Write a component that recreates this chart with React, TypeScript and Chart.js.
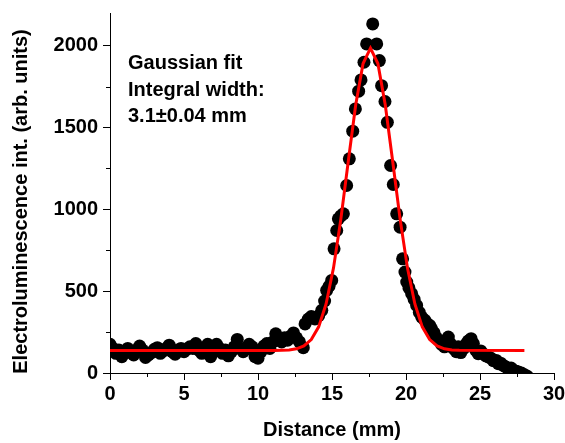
import React, { useEffect, useRef } from 'react';
import { Chart, registerables } from 'chart.js';

Chart.register(...registerables);

// Measured electroluminescence profile (distance in mm, intensity in arb. units)
const distance = [
  0, 0.2, 0.4, 0.6, 0.8, 1.0, 1.2, 1.4, 1.6, 1.8, 2.0, 2.2, 2.4, 2.6, 2.8, 3.0, 3.2, 3.4, 3.6, 3.8,
  4.0, 4.2, 4.4, 4.6, 4.8, 5.0, 5.2, 5.4, 5.6, 5.8, 6.0, 6.2, 6.4, 6.6, 6.8, 7.0, 7.2, 7.4, 7.6, 7.8,
  8.0, 8.2, 8.4, 8.6, 8.8, 9.0, 9.2, 9.4, 9.6, 9.8, 10.0, 10.2, 10.4, 10.6, 10.8, 11.0,
  11.2, 11.4, 11.6, 11.8, 12.0, 12.2, 12.4, 12.6, 12.8, 13.06, 13.18, 13.4, 13.6, 13.85, 14.1, 14.31,
  14.5, 14.64, 14.8, 14.98, 15.14, 15.32, 15.43, 15.6, 15.77, 15.99, 16.17, 16.4, 16.58, 16.8, 16.96,
  17.16, 17.34, 17.75, 18.02, 18.2, 18.35, 18.58, 18.74, 18.96, 19.14, 19.37, 19.6, 19.77, 19.93,
  20.05, 20.2, 20.38, 20.55, 20.72, 20.9, 21.06, 21.28, 21.45, 21.6, 21.73, 21.9, 22.05, 22.2, 22.4,
  22.6, 22.86, 23.0, 23.2, 23.4, 23.53, 23.7, 23.9, 24.05, 24.2, 24.4, 24.55, 24.7, 24.88, 25.05,
  25.2, 25.4, 25.56, 25.75, 25.9, 26.1, 26.24, 26.4, 26.6, 26.75, 26.9, 27.1, 27.3, 27.45, 27.6,
  27.8, 28.0, 28.2,
];
const intensity = [
  175, 150, 120, 140, 100, 130, 150, 125, 110, 140, 165, 140, 95, 110, 125, 145, 155, 120, 135, 150,
  170, 130, 115, 140, 150, 130, 145, 160, 150, 180, 140, 120, 150, 175, 100, 130, 175, 150, 120, 140,
  105, 130, 160, 205, 150, 130, 145, 175, 160, 100, 90, 130, 165, 180, 150, 190,
  240, 205, 190, 215, 200, 225, 245, 215, 190, 155, 300, 330, 345, 330, 350, 383,
  440, 505, 530, 566, 759, 871, 942, 960, 973, 1146, 1309, 1478, 1614, 1722, 1791,
  1899, 2011, 2133, 2011, 1909, 1756, 1659, 1532, 1268, 1152, 973, 891, 698, 617,
  556, 520, 485, 450, 413, 370, 342, 322, 300, 291, 270, 245, 215, 200, 175,
  160, 220, 180, 150, 130, 160, 125, 150, 175, 195, 210, 180, 140, 118, 135,
  118, 105, 98, 90, 75, 77, 57, 60, 45, 37, 27, 30, 15, 10, 6,
  0, -10, -20,
];

// Gaussian fit curve
const fitDistance = [
  0, 11.1, 11.6, 12.1, 12.6, 13.1, 13.6, 14.1, 14.6, 15.1, 15.6, 16.1, 16.6, 17.1, 17.6,
  18.1, 18.6, 19.1, 19.6, 20.1, 20.6, 21.1, 21.6, 22.1, 22.6, 23.1, 23.6, 28,
];
const fitIntensity = [
  138, 138, 139, 141, 148, 165, 204, 282, 422, 641, 942, 1294, 1638, 1891, 1985,
  1891, 1638, 1294, 942, 641, 422, 282, 204, 165, 148, 141, 139, 138,
];

const xMajorTicks = [0, 5, 10, 15, 20, 25, 30];
const xMinorTicks = [2.5, 7.5, 12.5, 17.5, 22.5, 27.5];
const yMajorTicks = [0, 500, 1000, 1500, 2000];
const yMinorTicks = [250, 750, 1250, 1750];

const xTitle = 'Distance (mm)';
const yTitle = 'Electroluminescence int. (arb. units)';
const annotationLines = ['Gaussian fit', 'Integral width:', '3.1±0.04 mm'];

const FONT = "'Liberation Sans', Arial, Helvetica, sans-serif";

export default function App() {
  const canvasRef = useRef<HTMLCanvasElement | null>(null);

  useEffect(() => {
    const canvas = canvasRef.current;
    if (!canvas) return;

    const extras = {
      id: 'extras',
      afterDraw(chart: any) {
        const ctx = chart.ctx as CanvasRenderingContext2D;
        const xs = chart.scales.x;
        const ys = chart.scales.y;
        const area = chart.chartArea;
        ctx.save();
        ctx.strokeStyle = '#000';
        ctx.lineWidth = 1;
        ctx.beginPath();
        for (const v of xMinorTicks) {
          const px = Math.round(xs.getPixelForValue(v)) + 0.5;
          ctx.moveTo(px, area.bottom);
          ctx.lineTo(px, area.bottom + 4);
        }
        for (const v of yMinorTicks) {
          const py = Math.round(ys.getPixelForValue(v)) + 0.5;
          ctx.moveTo(area.left, py);
          ctx.lineTo(area.left - 4, py);
        }
        ctx.stroke();

        // y axis title
        ctx.fillStyle = '#000';
        ctx.font = `bold 20px ${FONT}`;
        ctx.save();
        ctx.translate(26.5, 201.5);
        ctx.rotate(-Math.PI / 2);
        ctx.textAlign = 'center';
        ctx.textBaseline = 'alphabetic';
        ctx.fillText(yTitle, 0, 0);
        ctx.restore();

        // annotation
        ctx.textAlign = 'left';
        ctx.textBaseline = 'alphabetic';
        ctx.font = `bold 20px ${FONT}`;
        annotationLines.forEach((line, i) => {
          ctx.fillText(line, 128, 69 + i * 26.5);
        });
        ctx.restore();
      },
    };

    const chart = new Chart(canvas, {
      type: 'scatter',
      data: {
        datasets: [
          {
            type: 'line',
            label: 'Gaussian fit',
            data: fitDistance.map((x, i) => ({ x, y: fitIntensity[i] })),
            borderColor: '#ff0000',
            borderWidth: 3,
            pointRadius: 0,
            fill: false,
            tension: 0,
            order: 0,
          } as any,
          {
            label: 'Data',
            data: distance.map((x, i) => ({ x, y: intensity[i] })),
            backgroundColor: '#000',
            borderColor: '#000',
            borderWidth: 0,
            pointRadius: 6.5,
            clip: 0,
            order: 1,
          } as any,
        ],
      },
      options: {
        responsive: false,
        animation: false,
        devicePixelRatio: 1,
        layout: { padding: { top: 13, right: 11, bottom: 0, left: 0 } },
        plugins: {
          legend: { display: false },
          tooltip: { enabled: false },
          title: { display: false },
        },
        scales: {
          x: {
            type: 'linear',
            min: 0,
            max: 30,
            afterBuildTicks: (scale: any) => {
              scale.ticks = xMajorTicks.map((v) => ({ value: v }));
            },
            afterFit: (scale: any) => {
              scale.height = 70;
              scale.paddingLeft = 0;
              scale.paddingRight = 0;
            },
            ticks: {
              color: '#000',
              padding: 2,
              maxRotation: 0,
              autoSkip: false,
              callback: (v: any) => String(v),
              font: { family: FONT, size: 20, weight: 'bold' },
            },
            grid: {
              display: true,
              drawOnChartArea: false,
              drawTicks: true,
              tickLength: 7,
              color: '#000',
              tickColor: '#000',
              lineWidth: 1,
            },
            border: { display: true, color: '#000', width: 1 },
            title: {
              display: true,
              text: xTitle,
              color: '#000',
              padding: { top: 0, bottom: 1 },
              font: { family: FONT, size: 20, weight: 'bold' },
            },
          },
          y: {
            type: 'linear',
            min: 0,
            max: 2200,
            afterBuildTicks: (scale: any) => {
              scale.ticks = yMajorTicks.map((v) => ({ value: v }));
            },
            afterFit: (scale: any) => {
              scale.width = 110;
              scale.paddingTop = 0;
              scale.paddingBottom = 0;
            },
            ticks: {
              color: '#000',
              padding: 5,
              autoSkip: false,
              callback: (v: any) => String(v),
              font: { family: FONT, size: 20, weight: 'bold' },
            },
            grid: {
              display: true,
              drawOnChartArea: false,
              drawTicks: true,
              tickLength: 7,
              color: '#000',
              tickColor: '#000',
              lineWidth: 1,
            },
            border: { display: true, color: '#000', width: 1 },
            title: { display: false },
          },
        },
      },
      plugins: [extras],
    } as any);

    return () => {
      chart.destroy();
    };
  }, []);

  return (
    <div style={{ position: 'fixed', left: 0, top: 0, width: 565, height: 443, background: '#fff' }}>
      <canvas ref={canvasRef} width={565} height={443} style={{ width: 565, height: 443, display: 'block' }} />
    </div>
  );
}
